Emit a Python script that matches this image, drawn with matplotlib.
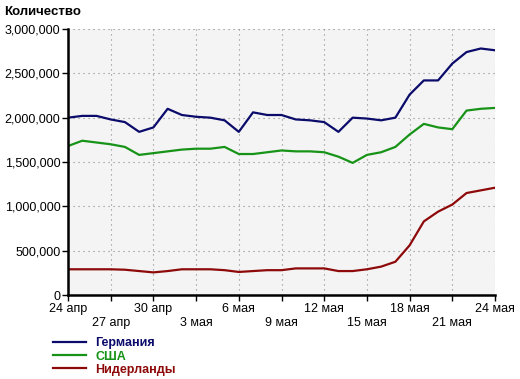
import numpy as np
import matplotlib.pyplot as plt
from matplotlib.ticker import FuncFormatter

# daily values, 24 апр .. 24 мая
days = np.arange(31)
germany = [2000000, 2020000, 2020000, 1980000, 1950000, 1840000, 1890000, 2100000,
           2030000, 2010000, 2000000, 1970000, 1840000, 2060000, 2030000, 2030000,
           1980000, 1970000, 1950000, 1840000, 2000000, 1990000, 1970000, 2000000,
           2260000, 2420000, 2420000, 2610000, 2740000, 2780000, 2760000]
usa = [1680000, 1740000, 1720000, 1700000, 1670000, 1580000, 1600000, 1620000,
       1640000, 1650000, 1650000, 1670000, 1590000, 1590000, 1610000, 1630000,
       1620000, 1620000, 1610000, 1560000, 1490000, 1580000, 1610000, 1670000,
       1810000, 1930000, 1890000, 1870000, 2080000, 2100000, 2110000]
netherlands = [290000, 290000, 290000, 290000, 285000, 270000, 255000, 270000,
               290000, 290000, 290000, 280000, 260000, 270000, 280000, 280000,
               300000, 300000, 300000, 270000, 270000, 290000, 320000, 375000,
               560000, 830000, 940000, 1020000, 1150000, 1180000, 1210000]

tick_days = [0, 3, 6, 9, 12, 15, 18, 21, 24, 27, 30]
tick_labels = ['24 апр', '27 апр', '30 апр', '3 мая', '6 мая', '9 мая',
               '12 мая', '15 мая', '18 мая', '21 мая', '24 мая']
series_names = ['Германия', 'США', 'Нидерланды']
colors = ['#0b0b6b', '#179317', '#8e0a0a']

plt.rcParams['font.family'] = ['Liberation Sans', 'DejaVu Sans']

fig = plt.figure(figsize=(5.2, 3.79), dpi=100)
ax = fig.add_axes([68 / 520, 84 / 379, 427 / 520, 266 / 379])
ax.set_facecolor('#f4f4f4')

lines = []
for vals, name, c in zip([germany, usa, netherlands], series_names, colors):
    ln, = ax.plot(days, vals, color=c, linewidth=1.6, label=name)
    lines.append(ln)

ax.set_xlim(0, 30)
ax.set_ylim(0, 3000000)
ax.set_yticks(np.arange(0, 3000001, 500000))
ax.yaxis.set_major_formatter(FuncFormatter(lambda v, p: '{:,.0f}'.format(v)))
ax.set_xticks(tick_days)
ax.set_xticklabels([lab if i % 2 == 0 else '\n' + lab for i, lab in enumerate(tick_labels)])

ax.grid(True, color='#888888', linestyle=(0, (1, 3.5)), linewidth=0.8)
for s in ['top', 'right']:
    ax.spines[s].set_visible(False)
for s in ['left', 'bottom']:
    ax.spines[s].set_linewidth(1.8)
ax.tick_params(axis='both', labelsize=9, length=4, width=1, colors='black', pad=1.5)
ax.tick_params(axis='x', pad=2, labelsize=9)

fig.text(4 / 520, 1 - 12 / 379, 'Количество', fontsize=9.5, fontweight='bold',
         va='center', ha='left')

leg = fig.legend(handles=lines, loc='upper left', bbox_to_anchor=(47 / 520, 1 - 331 / 379),
                 frameon=False, prop={'weight': 'bold', 'size': 9}, labelcolor='linecolor',
                 handlelength=2.6, handletextpad=0.75, labelspacing=0.1, borderpad=0)

fig.savefig('out.png', dpi=100)
